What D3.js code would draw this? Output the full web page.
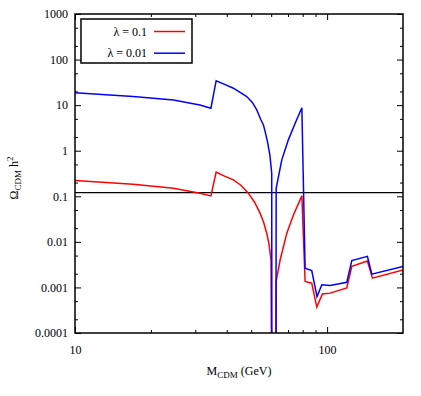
<!DOCTYPE html>
<html>
<head>
<meta charset="utf-8">
<script src="https://cdn.jsdelivr.net/npm/d3@7"></script>
<style>
body { margin: 0; background: #fff; }
#chart, #chart text { font-family: 'Liberation Serif', serif; font-size: 12px; fill: #000; }
</style>
</head>
<body>
<svg id="chart" width="421" height="396"></svg>
<script>
// relic density vs dark matter mass, two couplings
const massRed = [10, 17, 24.6, 31.3, 34.6, 36.3, 39, 42.5, 45.5, 48.7, 51.5, 54.2, 56, 57.6, 58.8, 59.9, 60.5, 62.6, 62.8, 65.1, 69.2, 73.5, 79.4, 81.8, 86.9, 91, 95.8, 102.8, 119.7, 125.3, 144.5, 151.3, 200];
const omegaRed = [0.221, 0.184, 0.15, 0.117, 0.102, 0.338, 0.28, 0.229, 0.175, 0.117, 0.075, 0.0426, 0.027, 0.0155, 0.009, 0.004, 1e-7, 1e-7, 0.00135, 0.004, 0.0155, 0.039, 0.102, 0.00135, 0.00124, 0.00037, 0.00072, 0.00075, 0.00097, 0.0029, 0.0038, 0.0016, 0.00243];

const massBlue = [10, 17, 24.6, 31.3, 34.6, 36.3, 39, 42.5, 45.5, 48, 50.5, 52.6, 54.5, 55.9, 57, 58, 59.3, 60.3, 60.4, 62.6, 62.8, 66.1, 70.2, 74.7, 79.4, 81.8, 86.9, 91.2, 95.3, 102.8, 119.7, 125.3, 144.5, 150.4, 200];
const omegaBlue = [18.8, 15.4, 13, 10.1, 8.55, 34.4, 29, 23.5, 18.5, 15.4, 11.5, 7.85, 4.9, 3.68, 2.4, 1.58, 0.8, 0.32, 1e-7, 1e-7, 0.15, 0.63, 1.73, 4.0, 8.8, 0.00265, 0.00235, 0.00063, 0.00114, 0.0011, 0.0013, 0.0039, 0.0048, 0.00195, 0.0029];

const omegaObs = 0.12;

const legendLabels = ["λ = 0.1", "λ = 0.01"];
const seriesColors = ["#ff0000", "#0000ff"];

const yMajor = [1e-4, 1e-3, 1e-2, 1e-1, 1, 10, 100, 1000];
const yLabels = ["0.0001", "0.001", "0.01", "0.1", "1", "10", "100", "1000"];
const yMinorMult = [2, 5];
const xMajor = [10, 100];
const xMinor = [20, 30, 40, 50, 60, 70, 80, 90];

const m = {left: 75, right: 403, top: 14, bottom: 333};
const fontFam = "'Liberation Serif', serif";

const svg = d3.select("#chart").attr("font-family", fontFam).attr("font-size", 12);

const x = d3.scaleLog().domain([10, 200]).range([m.left, m.right]);
const y = d3.scaleLog().domain([1e-4, 1000]).range([m.bottom, m.top]);

let yMinor = [];
yMajor.slice(0, -1).forEach(d => yMinorMult.forEach(k => yMinor.push(d * k)));

function addAxis(axisFn, pos, vals, size, fmt, pad) {
    const g = svg.append("g")
        .attr("transform", pos)
        .call(axisFn.tickValues(vals).tickSize(size).tickPadding(pad).tickFormat(fmt));
    g.select(".domain").remove();
    g.selectAll("line").attr("stroke", "#000").attr("stroke-width", 1);
    g.attr("font-family", fontFam).attr("font-size", 12);
    return g;
}

const yFmt = d => yLabels[yMajor.indexOf(d)];
const xFmt = d => String(d);

// y axes, ticks inward on both sides
addAxis(d3.axisLeft(y), `translate(${m.left},0)`, yMajor, -6, yFmt, 7);
addAxis(d3.axisLeft(y), `translate(${m.left},0)`, yMinor, -3, "", 7);
addAxis(d3.axisRight(y), `translate(${m.right},0)`, yMajor, -6, "", 0);
addAxis(d3.axisRight(y), `translate(${m.right},0)`, yMinor, -3, "", 0);

// x axes
addAxis(d3.axisBottom(x), `translate(0,${m.bottom})`, xMajor, -6, xFmt, 12);
addAxis(d3.axisBottom(x), `translate(0,${m.bottom})`, xMinor, -3, "", 0);
addAxis(d3.axisTop(x), `translate(0,${m.top})`, xMajor, -6, "", 0);
addAxis(d3.axisTop(x), `translate(0,${m.top})`, xMinor, -3, "", 0);

svg.append("clipPath").attr("id", "plot")
    .append("rect")
    .attr("x", m.left).attr("y", m.top)
    .attr("width", m.right - m.left).attr("height", m.bottom - m.top);

const line = d3.line()
    .x(d => x(d[0]))
    .y(d => y(d[1]));

const plot = svg.append("g").attr("clip-path", "url(#plot)");

plot.append("line")
    .attr("x1", m.left).attr("x2", m.right)
    .attr("y1", y(omegaObs)).attr("y2", y(omegaObs))
    .attr("stroke", "#000").attr("stroke-width", 1.2);

const series = [
    d3.zip(massRed, omegaRed),
    d3.zip(massBlue, omegaBlue)
];

series.forEach((s, i) => {
    plot.append("path")
        .datum(s)
        .attr("d", line)
        .attr("fill", "none")
        .attr("stroke", seriesColors[i])
        .attr("stroke-width", 1.5)
        .attr("stroke-linejoin", "miter");
});

// frame
svg.append("rect")
    .attr("x", m.left).attr("y", m.top)
    .attr("width", m.right - m.left).attr("height", m.bottom - m.top)
    .attr("fill", "none").attr("stroke", "#000").attr("stroke-width", 1.5);

// legend
const leg = svg.append("g");
leg.append("rect")
    .attr("x", 81).attr("y", 19).attr("width", 111).attr("height", 44)
    .attr("fill", "#fff").attr("stroke", "#000").attr("stroke-width", 1.5);
legendLabels.forEach((lab, i) => {
    const ly = 31.5 + i * 21.7;
    leg.append("text")
        .attr("x", 147).attr("y", ly + 4)
        .attr("text-anchor", "end")
        .text(lab);
    leg.append("line")
        .attr("x1", 154).attr("x2", 185)
        .attr("y1", ly).attr("y2", ly)
        .attr("stroke", seriesColors[i]).attr("stroke-width", 1.5);
});

// axis titles
const xt = svg.append("text")
    .attr("x", 239).attr("y", 375)
    .attr("text-anchor", "middle");
xt.append("tspan").text("M");
xt.append("tspan").attr("font-size", "9px").attr("dy", 3).text("CDM");
xt.append("tspan").attr("dy", -3).text(" (GeV)");

const yt = svg.append("text")
    .attr("transform", "translate(18,178) rotate(-90)")
    .attr("text-anchor", "middle");
yt.append("tspan").text("Ω");
yt.append("tspan").attr("font-size", "9px").attr("dy", 3).text("CDM");
yt.append("tspan").attr("dy", -3).text(" h");
yt.append("tspan").attr("font-size", "9px").attr("dy", -5).text("2");
</script>
</body>
</html>
